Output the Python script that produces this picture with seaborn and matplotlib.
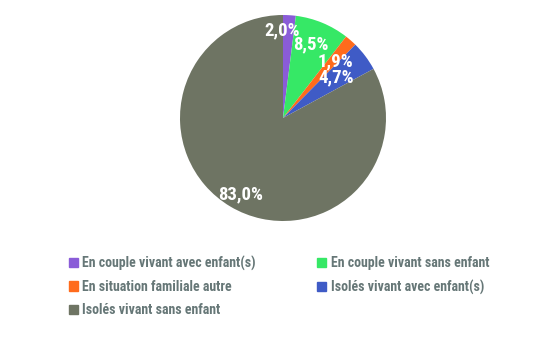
import matplotlib
matplotlib.use("Agg")
import matplotlib.pyplot as plt
import numpy as np
import seaborn as sns
from matplotlib import font_manager

categories = ["En couple vivant avec enfant(s)", "En couple vivant sans enfant",
              "En situation familiale autre", "Isolés vivant avec enfant(s)",
              "Isolés vivant sans enfant"]
values = [2.0, 8.5, 1.9, 4.7, 83.0]
labels = ["2,0%", "8,5%", "1,9%", "4,7%", "83,0%"]
colors = ["#8A5CD8", "#36E866", "#FF6B1C", "#3F5BC6", "#6E7463"]

sns.set_theme(style="white")
available = set(f.name for f in font_manager.fontManager.ttflist)
prefs = ["Liberation Sans Narrow", "Arial Narrow", "Roboto Condensed", "PT Sans Narrow",
         "Archivo Narrow", "Open Sans Condensed", "Encode Sans Condensed", "DejaVu Sans"]
fam = next(p for p in prefs if p in available)
plt.rcParams['font.family'] = [fam, 'DejaVu Sans']

fig = plt.figure(figsize=(5.48, 3.40), dpi=100)
ax = fig.add_axes([(283 - 103) / 548, (340 - 221) / 340, 206 / 548, 206 / 340])
wedges, _ = ax.pie(values, colors=colors, startangle=90, counterclock=False,
                   wedgeprops=dict(linewidth=0))
# label distance (fraction of radius) and pixel nudges (dx right, dy down)
place = [(0.86, -6, 1), (0.78, -3, 1), (0.76, 1, 2), (0.76, -9, 6), (0.83, 1, 3)]
for w, lab, (d, dx, dy) in zip(wedges, labels, place):
    ang = np.deg2rad((w.theta1 + w.theta2) / 2)
    ax.annotate(lab, (d * np.cos(ang), d * np.sin(ang)),
                xytext=(dx * 0.72, -dy * 0.72), textcoords="offset points",
                ha="center", va="center", color="white",
                fontsize=13.5, fontweight="bold")
ax.set_xlim(-1, 1)
ax.set_ylim(-1, 1)
ax.set_aspect("equal")

order = [0, 2, 4, 1, 3]
handles = [plt.Rectangle((0, 0), 1, 1, color=colors[i]) for i in order]
leg = fig.legend(handles, [categories[i] for i in order], ncol=2, loc="upper left",
                 bbox_to_anchor=(56 / 548, 1 - 243 / 340), frameon=False,
                 handlelength=0.65, handleheight=0.65, handletextpad=0.35,
                 columnspacing=4.4, labelspacing=0.68,
                 prop=dict(size=10, weight="bold"))
for t in leg.get_texts():
    t.set_color("#667777")

fig.savefig("out.png", dpi=100)
